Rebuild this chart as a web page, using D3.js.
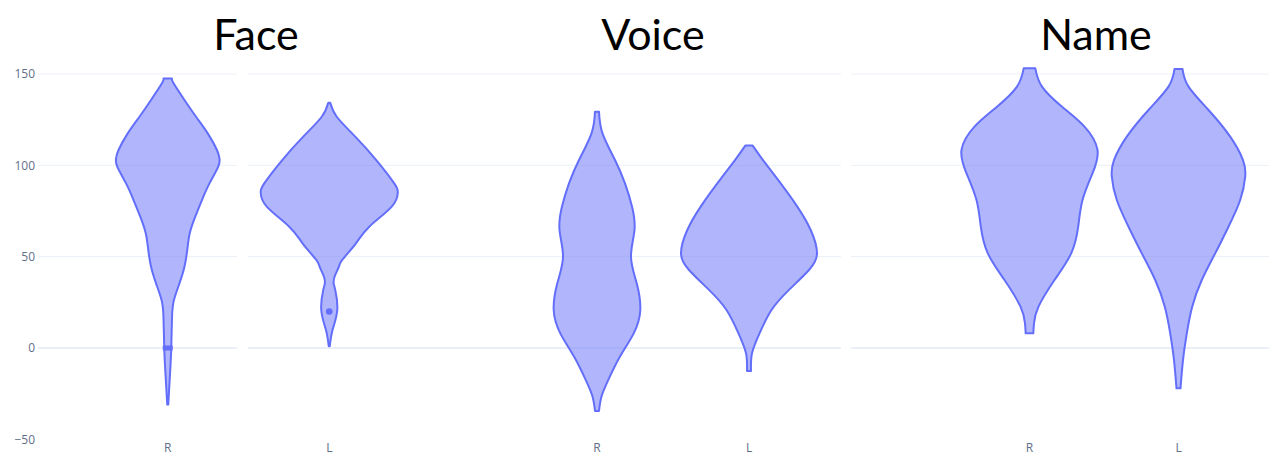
<!DOCTYPE html>
<html>
<head>
<meta charset="utf-8">
<script src="https://cdn.jsdelivr.net/npm/d3@7"></script>
<style>
  body { margin: 0; background: #fff; }
  svg { display: block; }
</style>
</head>
<body>
<svg id="chart" width="1276" height="456"></svg>
<script>
// ---------------------- DATA ----------------------
const panelNames = ["Face", "Voice", "Name"];
const categories = ["R", "L"];
const yTicks = [150, 100, 50, 0, -50];
const gridValues = [150, 100, 50, 0];

// density profiles: [value, density]
const faceR = [[147.6, 0.042], [144.9, 0.058], [135.8, 0.167], [126.6, 0.283], [117.5, 0.40], [108.4, 0.492],
  [103.8, 0.517], [99.3, 0.505], [90.1, 0.417], [81, 0.342], [71.9, 0.275], [62.8, 0.22], [53.7, 0.195],
  [44.5, 0.167], [35.4, 0.117], [26.3, 0.062], [17.2, 0.043], [0, 0.035], [-12, 0.025], [-31, 0.005]];
const faceL = [[134.3, 0.01], [126.6, 0.075], [115.7, 0.26], [102.9, 0.47], [90.1, 0.65], [84.7, 0.685],
  [77.4, 0.625], [66.4, 0.40], [57.3, 0.267], [48.2, 0.13], [44.5, 0.097], [39, 0.053], [35, 0.045],
  [31.8, 0.06], [20.8, 0.08], [9.9, 0.033], [1, 0.005]];
const voiceR = [[129.4, 0.02], [117.5, 0.055], [102.9, 0.18], [90.1, 0.28], [77.4, 0.35], [64.6, 0.375],
  [50, 0.34], [35.4, 0.397], [20.8, 0.433], [8, 0.367], [-4.7, 0.23], [-17.5, 0.113], [-26.6, 0.045],
  [-34.5, 0.02]];
const voiceL = [[110.8, 0.037], [102.9, 0.14], [90.1, 0.317], [77.4, 0.483], [64.6, 0.617], [51.8, 0.68],
  [42.7, 0.60], [31.8, 0.40], [20.8, 0.225], [8, 0.105], [-2.9, 0.03], [-12.6, 0.02]];
const nameR = [[153.1, 0.058], [143.1, 0.125], [132.1, 0.325], [121.2, 0.55], [108.4, 0.68], [95.6, 0.63],
  [81, 0.53], [66.4, 0.487], [51.8, 0.417], [37.2, 0.25], [22.6, 0.09], [13.5, 0.045], [8, 0.038]];
const nameL = [[152.7, 0.04], [143.1, 0.10], [130.3, 0.30], [115.7, 0.517], [102.9, 0.645], [93.8, 0.667],
  [81, 0.617], [66.4, 0.50], [51.8, 0.367], [37.2, 0.233], [22.6, 0.137], [8, 0.083], [-6.6, 0.045],
  [-22.1, 0.02]];

const violins = [
  {panel: "Face", cat: "R", profile: faceR},
  {panel: "Face", cat: "L", profile: faceL},
  {panel: "Voice", cat: "R", profile: voiceR},
  {panel: "Voice", cat: "L", profile: voiceL},
  {panel: "Name", cat: "R", profile: nameR},
  {panel: "Name", cat: "L", profile: nameL}
];

// single marks drawn inside the violins
const medianMarks = [{panel: "Face", cat: "R", value: 0}];
const outlierPoints = [{panel: "Face", cat: "L", value: 20}];

// ---------------------- LAYOUT ----------------------
const panelRanges = {Face: [87, 410], Voice: [521, 825], Name: [955, 1253]};
const titleX = {Face: 256, Voice: 653, Name: 1096};
const gridSegments = [[38, 237], [248, 841], [851, 1269]];

const lineColor = "#636efa";
const fillColor = "rgba(99,110,250,0.5)";
const tickColor = "#5f6f8a";

const svg = d3.select("#chart");

const y = d3.scaleLinear().domain([-50, 150]).range([439.3, 74]);
const w = d3.scaleLinear().domain([0, 1]).range([0, 100]);

const xScales = {};
panelNames.forEach(p => {
  xScales[p] = d3.scaleBand().domain(categories).range(panelRanges[p]);
});
const cx = (panel, cat) => xScales[panel](cat) + xScales[panel].bandwidth() / 2;

// ---------------------- GRID ----------------------
const grid = svg.append("g");
gridSegments.forEach(seg => {
  grid.selectAll(null)
    .data(gridValues)
    .join("line")
    .attr("x1", seg[0])
    .attr("x2", seg[1])
    .attr("y1", d => y(d))
    .attr("y2", d => y(d))
    .attr("stroke", "#ebf0f8")
    .attr("stroke-width", d => d === 0 ? 2 : 1);
});

// y axis labels
const yAxis = svg.append("g").attr("transform", "translate(35,0)")
  .call(d3.axisLeft(y).tickValues(yTicks).tickSize(0).tickPadding(0)
    .tickFormat(d => d < 0 ? "\u2212" + Math.abs(d) : d));
yAxis.select(".domain").remove();
yAxis.selectAll("text")
  .attr("fill", tickColor)
  .style("font-family", "'Open Sans', sans-serif")
  .style("font-size", "12px");

// category labels for every panel
panelNames.forEach(p => {
  const ax = svg.append("g").attr("transform", "translate(0,443)")
    .call(d3.axisBottom(xScales[p]).tickSize(0).tickPadding(0));
  ax.select(".domain").remove();
  ax.selectAll("text")
    .attr("fill", tickColor)
    .style("font-family", "'Open Sans', sans-serif")
    .style("font-size", "12px");
});

// ---------------------- VIOLINS ----------------------
violins.forEach(v => {
  const c = cx(v.panel, v.cat);
  const area = d3.area()
    .y(d => y(d[0]))
    .x0(d => c - w(d[1]))
    .x1(d => c + w(d[1]))
    .curve(d3.curveNatural);
  svg.append("path")
    .datum(v.profile)
    .attr("d", area)
    .attr("fill", fillColor)
    .attr("stroke", lineColor)
    .attr("stroke-width", 2)
    .attr("stroke-linejoin", "round");
});

svg.selectAll(null)
  .data(medianMarks)
  .join("rect")
  .attr("x", d => cx(d.panel, d.cat) - 5)
  .attr("y", d => y(d.value) - 2.5)
  .attr("width", 10)
  .attr("height", 5)
  .attr("fill", lineColor);

svg.selectAll(null)
  .data(outlierPoints)
  .join("circle")
  .attr("cx", d => cx(d.panel, d.cat))
  .attr("cy", d => y(d.value))
  .attr("r", 3.3)
  .attr("fill", lineColor);

// ---------------------- TITLES ----------------------
svg.selectAll(null)
  .data(panelNames)
  .join("text")
  .attr("x", d => titleX[d])
  .attr("y", 50)
  .attr("text-anchor", "middle")
  .style("font-family", "Lato, 'Open Sans', sans-serif")
  .style("font-size", "43px")
  .attr("fill", "#000")
  .text(d => d);
</script>
</body>
</html>
